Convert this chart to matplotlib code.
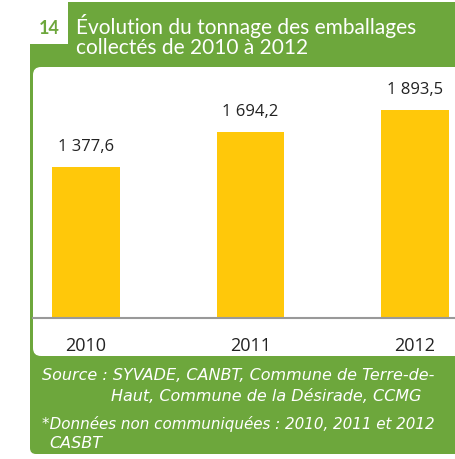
import matplotlib.pyplot as plt
from matplotlib.patches import Rectangle, FancyBboxPatch

years = ['2010', '2011', '2012']
tonnage = [1377.6, 1694.2, 1893.5]
value_labels = ['1 377,6', '1 694,2', '1 893,5']

title_num = '14'
title = 'Évolution du tonnage des emballages\ncollectés de 2010 à 2012'
source_1 = 'Source : SYVADE, CANBT, Commune de Terre-de-'
source_2 = 'Haut, Commune de la Désirade, CCMG'
note_1 = '*Données non communiquées : 2010, 2011 et 2012'
note_2 = 'CASBT'

green = '#6da73c'
yellow = '#ffc80a'
font = 'Lato'
font2 = 'Open Sans'
font3 = 'DejaVu Sans'

W, H = 455, 460
fig = plt.figure(figsize=(W / 100, H / 100), dpi=100)

# background layer in pixel coordinates
bg = fig.add_axes([0, 0, 1, 1], zorder=0)
bg.set_xlim(0, W)
bg.set_ylim(H, 0)
bg.axis('off')

bg.add_patch(FancyBboxPatch((30, 3), W, 455 - 3, boxstyle='round,pad=0,rounding_size=6',
                            fc=green, ec='none'))
bg.add_patch(Rectangle((29, 0), 39, 12, fc='white', ec='none'))
bg.add_patch(Rectangle((29, 12), 39, 33, fc='white', ec='none'))
bg.add_patch(FancyBboxPatch((33, 68), W, 357 - 68, boxstyle='round,pad=0,rounding_size=8',
                            fc='white', ec='none'))

bg.text(49, 29, title_num, color=green, fontsize=13, fontweight='bold',
        family=font, ha='center', va='center')
bg.text(76, 36, title, color='white', fontsize=15, family=font,
        ha='left', va='center', linespacing=1.0)

bg.text(42, 376, source_1, color='white', fontsize=11.5, style='italic',
        family=font3, ha='left', va='center')
bg.text(111, 397, source_2, color='white', fontsize=11.5, style='italic',
        family=font3, ha='left', va='center')
bg.text(42, 424, note_1, color='white', fontsize=10.9, style='italic',
        family=font3, ha='left', va='center')
bg.text(49, 444, note_2, color='white', fontsize=11.5, style='italic',
        family=font3, ha='left', va='center')

# bar chart
ax = fig.add_axes([33 / W, (H - 319) / H, (W - 33) / W, (319 - 68) / H], zorder=1)
ax.patch.set_alpha(0)
x = list(range(len(years)))
ax.bar(x, tonnage, width=0.41, color=yellow)
ax.set_xlim((33 - 86) / 164.5, (W - 86) / 164.5)
ax.set_ylim(0, (319 - 68) / 0.1096)
for xi, v, lab in zip(x, tonnage, value_labels):
    ax.text(xi, v + 120, lab, ha='center', va='bottom', fontsize=12,
            family=font2, color='#222222')

ax.set_xticks(x)
ax.set_xticklabels(years, fontsize=13, family=font2, color='#222222')
ax.tick_params(axis='x', length=0, pad=13)
ax.set_yticks([])
for s in ['top', 'right', 'left']:
    ax.spines[s].set_visible(False)
ax.spines['bottom'].set_color('#999999')
ax.spines['bottom'].set_linewidth(1.5)

fig.savefig('out.png', dpi=100)
